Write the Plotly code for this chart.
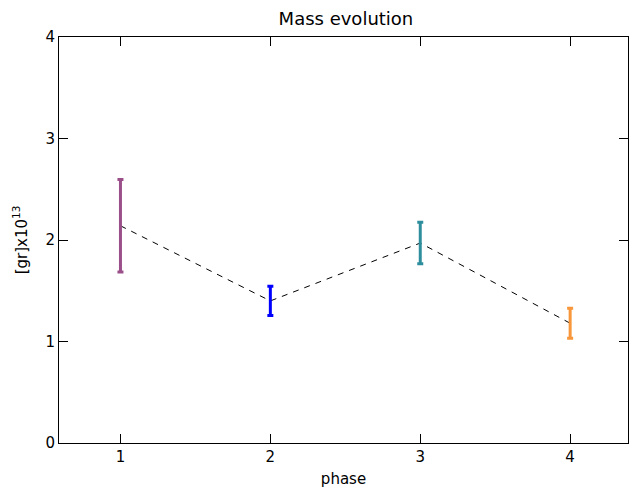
import plotly.graph_objects as go

# Mass per phase (units of 1e13 gr) with symmetric uncertainty
phases = [1, 2, 3, 4]
mass = [2.14, 1.40, 1.97, 1.18]
mass_err = [0.455, 0.145, 0.205, 0.148]
colors = ["#9B4F8A", "#0000FF", "#2E8E9E", "#F7963A"]

fig = go.Figure()

# Dashed connecting line through the central values
fig.add_trace(go.Scatter(
    x=phases, y=mass, mode="lines",
    line=dict(color="black", width=1, dash="6px,6px"),
    showlegend=False, hoverinfo="skip",
))

# One coloured error bar per phase
for p, m, e, c in zip(phases, mass, mass_err, colors):
    fig.add_trace(go.Scatter(
        x=[p], y=[m], mode="markers",
        marker=dict(size=1, color="rgba(0,0,0,0)"),
        error_y=dict(type="data", array=[e], visible=True,
                     color=c, thickness=3, width=3),
        showlegend=False,
    ))

font_family = "DejaVu Sans"
axis_common = dict(
    showgrid=False, zeroline=False,
    showline=True, linecolor="black", linewidth=1, mirror="ticks",
    ticks="inside", ticklen=9, tickcolor="black", tickwidth=1,
    tickfont=dict(family=font_family, size=15, color="black"),
)

fig.update_layout(
    width=629, height=495,
    paper_bgcolor="white", plot_bgcolor="white",
    margin=dict(l=59, r=1, t=37, b=52),
    title=dict(text="Mass evolution", x=0.55, xanchor="center",
               y=0.975, yanchor="top",
               font=dict(family=font_family, size=18, color="black")),
    xaxis=dict(range=[0.59, 4.386], tickvals=phases,
               title=dict(text="phase", standoff=8,
                          font=dict(family=font_family, size=15, color="black")),
               **axis_common),
    yaxis=dict(range=[0, 4], tickvals=[0, 1, 2, 3, 4],
               title=dict(text="[gr]x10<sup>13</sup>", standoff=14,
                          font=dict(family=font_family, size=15, color="black")),
               **axis_common),
)

fig.write_html("out.html")
